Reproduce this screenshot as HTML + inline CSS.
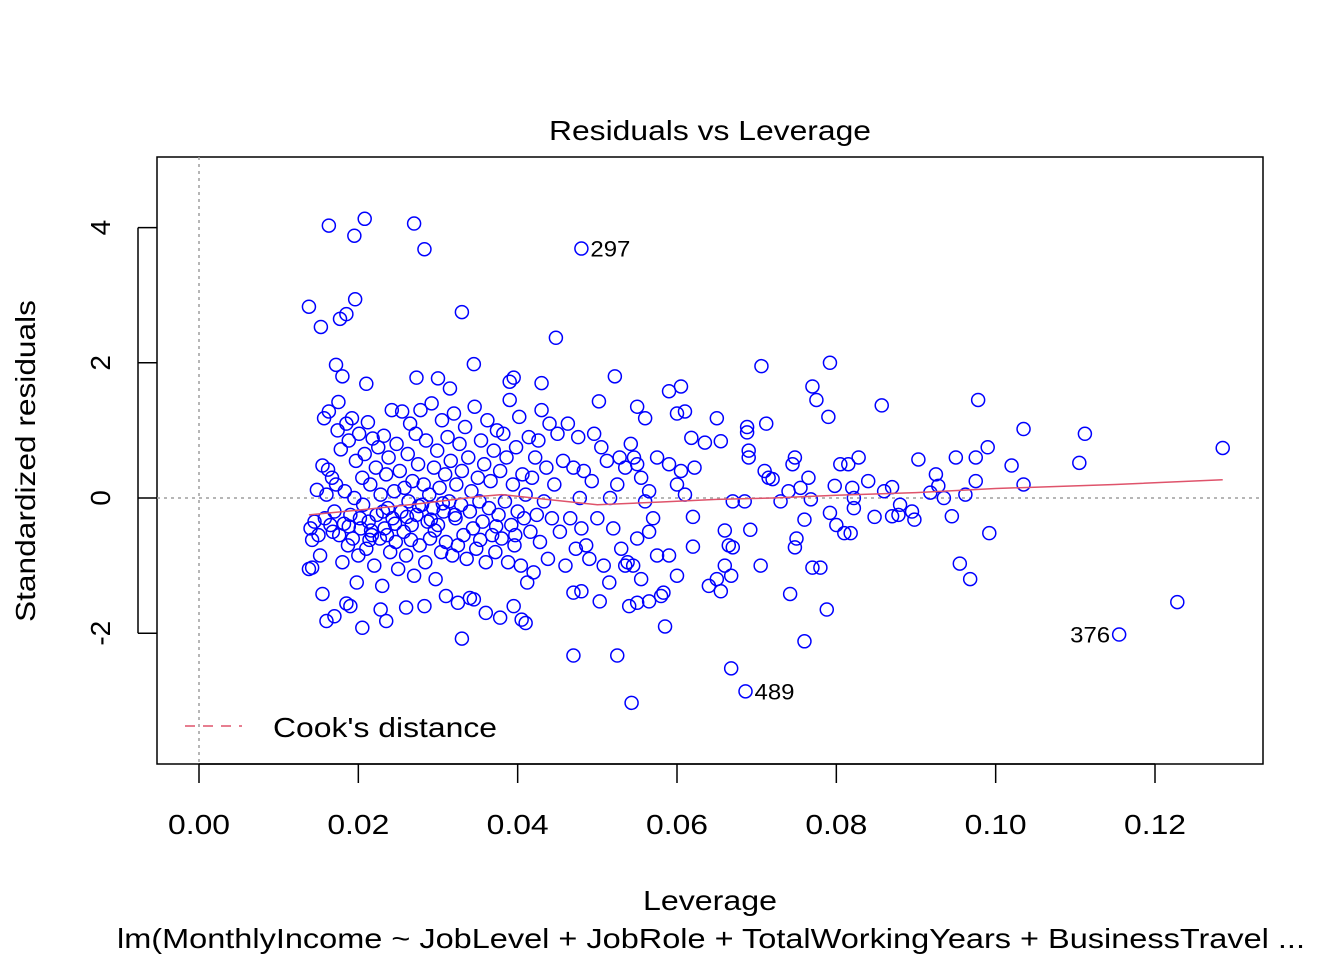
<!DOCTYPE html>
<html><head><meta charset="utf-8"><style>
html,body{margin:0;padding:0;background:#fff;}
svg{display:block;font-family:"Liberation Sans",Arial,sans-serif;}
</style></head><body>
<svg id="chart" width="1344" height="960" viewBox="0 0 1344 960">
<rect x="0" y="0" width="1344" height="960" fill="#fff"/>
<text x="710" y="140" font-size="28" text-anchor="middle" textLength="322" lengthAdjust="spacingAndGlyphs">Residuals vs Leverage</text>
<rect x="157" y="157" width="1106" height="607" fill="none" stroke="#000" stroke-width="1.5"/>
<g id="axes"></g>
<g id="refs"></g>
<g id="points"></g>
<g id="smooth"></g>
<g id="labels"></g>
<text x="710" y="910" font-size="28" text-anchor="middle" textLength="134" lengthAdjust="spacingAndGlyphs">Leverage</text>
<text x="711" y="948" font-size="28" text-anchor="middle" textLength="1188" lengthAdjust="spacingAndGlyphs">lm(MonthlyIncome ~ JobLevel + JobRole + TotalWorkingYears + BusinessTravel  ...</text>
<text transform="translate(35,461) rotate(-90)" font-size="28" text-anchor="middle" textLength="322" lengthAdjust="spacingAndGlyphs">Standardized residuals</text>
<g>
<line x1="185" y1="726" x2="242" y2="726" stroke="#DF536B" stroke-width="1.5" stroke-dasharray="10,8"/>
<text x="273" y="737" font-size="28" textLength="224" lengthAdjust="spacingAndGlyphs">Cook's distance</text>
</g>
</svg>
<script>
const xTicks=[0,0.02,0.04,0.06,0.08,0.10,0.12];
const xTickLabels=["0.00","0.02","0.04","0.06","0.08","0.10","0.12"];
const yTicks=[-2,0,2,4];
const yTickLabels=["-2","0","2","4"];
const obs=[
[0.0163,4.03],[0.0208,4.13],[0.0195,3.88],[0.0270,4.06],[0.0283,3.68],[0.0480,3.69],[0.0138,2.83],[0.0196,2.94],[0.0185,2.72],[0.0177,2.65],[0.0153,2.53],[0.0330,2.75],[0.0448,2.37],[0.0172,1.97],[0.0345,1.98],[0.0180,1.80],[0.0210,1.69],[0.0273,1.78],[0.0300,1.77],[0.0315,1.62],[0.0395,1.78],[0.0390,1.72],[0.0430,1.70],[0.0522,1.80],[0.0502,1.43],[0.0550,1.35],[0.0560,1.18],[0.0528,0.60],
[0.0160,-1.82],[0.0170,-1.75],[0.0205,-1.92],[0.0235,-1.82],[0.0330,-2.08],[0.0470,-2.33],[0.0525,-2.33],[0.0543,-3.03],[0.0410,-1.85],[0.0405,-1.80],[0.0395,-1.60],[0.0360,-1.70],[0.0378,-1.77],[0.0345,-1.50],[0.0340,-1.48],[0.0325,-1.55],[0.0310,-1.45],[0.0283,-1.60],[0.0260,-1.62],[0.0228,-1.65],[0.0190,-1.60],[0.0185,-1.56],[0.0155,-1.42],[0.0138,-1.05],[0.0142,-1.03],[0.0503,-1.53],[0.0540,-1.60],[0.0550,-1.55],[0.0565,-1.53],[0.0580,-1.45],[0.0480,-1.38],[0.0470,-1.40],[0.0515,-1.25],[0.0535,-1.00],[0.0555,-1.20],[0.0545,-1.00],[0.0550,-0.60],[0.0565,-0.50],[0.0575,-0.85],
[0.0618,0.89],[0.0635,0.82],[0.0650,1.18],[0.0655,0.84],[0.0622,0.45],[0.0605,0.40],[0.0610,1.28],[0.0600,1.25],[0.0590,1.58],[0.0605,1.65],[0.0590,0.50],[0.0600,0.20],[0.0610,0.05],[0.0620,-0.28],[0.0660,-0.48],[0.0665,-0.70],[0.0670,-0.73],[0.0650,-1.20],[0.0640,-1.30],[0.0655,-1.38],[0.0668,-1.15],[0.0660,-1.0],[0.0620,-0.72],[0.0600,-1.15],[0.0590,-0.85],[0.0583,-1.40],[0.0585,-1.90],[0.0668,-2.52],[0.0686,-2.86],[0.0670,-0.05],[0.0685,-0.05],[0.0690,0.70],[0.0688,0.97],[0.0688,1.05],[0.0690,0.60],[0.0706,1.95],[0.0712,1.10],[0.0710,0.40],[0.0715,0.30],[0.0720,0.28],[0.0705,-1.00],[0.0692,-0.47],[0.0730,-0.05],[0.0740,0.10],[0.0745,0.50],[0.0748,0.60],[0.0742,-1.42],[0.0750,-0.60],[0.0748,-0.73],[0.0755,0.15],[0.0760,-0.32],[0.0760,-2.12],[0.0770,1.65],[0.0775,1.45],[0.0765,0.30],[0.0768,-0.02],[0.0770,-1.03],[0.0780,-1.03],[0.0788,-1.65],[0.0792,2.00],[0.0790,1.20],[0.0792,-0.22],[0.0798,0.18],[0.0800,-0.40],[0.0805,0.50],[0.0810,-0.52],[0.0815,0.50],[0.0818,-0.52],[0.0820,0.15],[0.0822,-0.15],[0.0822,0.00],[0.0828,0.60],[0.0840,0.25],[0.0848,-0.28],[0.0857,1.37],[0.0860,0.10],[0.0870,0.16],[0.0870,-0.27],[0.0878,-0.25],[0.0880,-0.10],[0.0895,-0.20],[0.0898,-0.32],[0.0903,0.57],[0.0918,0.08],[0.0925,0.35],[0.0928,0.18],[0.0935,0.00],[0.0945,-0.27],[0.0950,0.60],[0.0955,-0.97],[0.0962,0.05],[0.0968,-1.20],[0.0975,0.25],[0.0978,1.45],[0.0975,0.60],[0.0990,0.75],[0.0992,-0.52],[0.1020,0.48],[0.1035,1.02],[0.1035,0.20],[0.1105,0.52],[0.1112,0.95],[0.1155,-2.02],[0.1228,-1.54],[0.1285,0.74],
[0.0140,-0.45],[0.0142,-0.62],[0.0145,-0.35],[0.0148,0.12],[0.0150,-0.55],[0.0152,-0.85],[0.0155,0.48],[0.0157,1.18],[0.0158,-0.30],[0.0160,0.05],[0.0162,0.42],[0.0163,1.28],[0.0165,-0.40],[0.0167,0.30],[0.0170,-0.20],[0.0172,0.20],[0.0174,1.00],[0.0175,1.42],[0.0176,-0.55],[0.0178,0.72],[0.0180,-0.95],[0.0182,-0.38],[0.0183,0.10],[0.0185,1.10],[0.0187,-0.70],[0.0188,0.85],[0.0190,-0.25],[0.0192,1.18],[0.0193,-0.60],[0.0195,0.00],[0.0197,0.55],[0.0198,-1.25],[0.0200,-0.85],[0.0201,0.95],[0.0203,-0.45],[0.0205,0.30],[0.0206,-0.10],[0.0208,0.65],[0.0210,-0.75],[0.0212,1.12],[0.0213,-0.35],[0.0215,0.20],[0.0217,-0.55],[0.0218,0.88],[0.0220,-1.00],[0.0222,0.45],[0.0223,-0.25],[0.0225,0.75],[0.0227,-0.60],[0.0228,0.05],[0.0230,-1.30],[0.0232,0.92],[0.0233,-0.45],[0.0235,0.35],[0.0237,-0.15],[0.0238,0.60],[0.0240,-0.80],[0.0242,1.30],[0.0243,-0.30],[0.0245,0.10],[0.0247,-0.65],[0.0248,0.80],[0.0250,-1.05],[0.0252,0.40],[0.0254,-0.20],[0.0255,1.28],[0.0257,-0.50],[0.0258,0.15],[0.0260,-0.85],[0.0262,0.65],[0.0263,-0.05],[0.0265,1.10],[0.0267,-0.40],[0.0268,0.25],[0.0270,-1.15],[0.0272,0.95],[0.0273,-0.25],[0.0275,0.50],[0.0277,-0.70],[0.0278,1.30],[0.0280,-0.10],[0.0282,0.20],[0.0284,-0.95],[0.0285,0.85],[0.0287,-0.35],[0.0289,0.05],[0.0290,-0.60],[0.0292,1.40],[0.0294,-0.15],[0.0295,0.45],[0.0297,-1.20],[0.0299,0.70],[0.0300,-0.40],[0.0302,0.15],[0.0304,-0.80],[0.0305,1.15],[0.0307,-0.20],[0.0309,0.35],[0.0310,-0.65],[0.0312,0.90],[0.0314,-0.05],[0.0316,0.55],[0.0318,-0.85],[0.0320,1.25],[0.0322,-0.30],[0.0323,0.20],[0.0325,-0.70],[0.0327,0.80],[0.0329,-0.10],[0.0330,0.40],[0.0332,-0.55],[0.0334,1.05],[0.0336,-0.90],[0.0338,0.60],[0.0340,-0.20],[0.0342,0.10],[0.0344,-0.45],[0.0346,1.35],[0.0348,-0.75],[0.0350,0.30],[0.0352,-0.05],[0.0354,0.85],[0.0356,-0.35],[0.0358,0.50],[0.0360,-0.95],[0.0362,1.15],[0.0364,-0.15],[0.0366,0.25],[0.0368,-0.55],[0.0370,0.70],[0.0372,-0.80],[0.0374,1.00],[0.0376,-0.25],[0.0378,0.40],[0.0380,-0.60],[0.0382,0.95],[0.0384,-0.05],[0.0386,0.60],[0.0388,-0.95],[0.0390,1.45],[0.0392,-0.40],[0.0394,0.20],[0.0396,-0.70],[0.0398,0.75],[0.0400,-0.20],[0.0402,1.20],[0.0404,-1.00],[0.0406,0.35],[0.0408,-0.30],[0.0410,0.05],[0.0412,-1.25],[0.0414,0.90],[0.0416,-0.50],[0.0418,0.30],[0.0420,-1.10],[0.0422,0.60],[0.0424,-0.25],[0.0426,0.85],[0.0428,-0.65],[0.0430,1.30],[0.0433,-0.05],[0.0436,0.45],[0.0438,-0.90],[0.0440,1.10],[0.0443,-0.30],[0.0446,0.20],[0.0450,0.95],[0.0453,-0.50],[0.0457,0.55],[0.0460,-1.00],[0.0463,1.10],[0.0466,-0.30],[0.0470,0.45],[0.0473,-0.75],[0.0476,0.90],[0.0478,0.00],[0.0480,-0.45],[0.0483,0.40],[0.0486,-0.70],[0.0490,-0.90],[0.0493,0.25],[0.0496,0.95],[0.0500,-0.30],[0.0505,0.75],[0.0508,-1.00],[0.0512,0.55],[0.0516,0.00],[0.0520,-0.45],[0.0525,0.20],[0.0530,-0.75],[0.0535,0.45],[0.0538,-0.95],[0.0542,0.80],[0.0546,0.60],[0.0550,0.50],[0.0555,0.30],[0.0560,-0.05],[0.0565,0.10],[0.0570,-0.30],[0.0575,0.60],
[0.0188,-0.42],[0.0202,-0.30],[0.0216,-0.48],[0.0231,-0.20],[0.0246,-0.38],[0.0261,-0.28],[0.0276,-0.12],[0.0291,-0.32],[0.0306,-0.08],[0.0321,-0.25],[0.0168,-0.50],[0.0214,-0.62],[0.0236,-0.55],[0.0266,-0.62],[0.0296,-0.48],[0.0353,-0.62],[0.0373,-0.42],[0.0397,-0.55]
];
const smoothLev=[0.0138,0.02,0.028,0.035,0.038,0.042,0.05,0.058,0.065,0.072,0.08,0.09,0.1,0.115,0.1285];
const smoothRes=[-0.25,-0.18,-0.08,0.02,0.05,0.0,-0.1,-0.06,-0.02,0.0,0.04,0.08,0.14,0.2,0.27];
const labelText=["297","489","376"];
const labelLev=[0.0480,0.0686,0.1155];
const labelRes=[3.69,-2.86,-2.02];
const labelSide=[1,1,-1];

const X=v=>199+v*(1155-199)/0.12;
const Y=v=>498-v*67.6;
const NS="http://www.w3.org/2000/svg";
function mk(tag,attrs,parent){const e=document.createElementNS(NS,tag);for(const k in attrs)e.setAttribute(k,attrs[k]);parent.appendChild(e);return e;}
const axes=document.getElementById('axes');
mk('line',{x1:X(0),x2:X(0.12),y1:764,y2:764,stroke:'#000','stroke-width':1.5},axes);
xTicks.forEach((t,i)=>{
 const l=mk('line',{x1:X(t),x2:X(t),y1:764,y2:783,stroke:'#000','stroke-width':1.5},axes);
 
 
 const tx=mk('text',{x:X(t),y:834,'font-size':28,'text-anchor':'middle',textLength:62,lengthAdjust:'spacingAndGlyphs'},axes);
 tx.textContent=xTickLabels[i];
 
 
});
mk('line',{x1:138,x2:138,y1:Y(-2),y2:Y(4),stroke:'#000','stroke-width':1.5},axes);
yTicks.forEach((t,i)=>{
 const l=mk('line',{x1:138,x2:157,y1:Y(t),y2:Y(t),stroke:'#000','stroke-width':1.5},axes);
 
 
 const tx=mk('text',{transform:`translate(110,${Y(t)}) rotate(-90)`,'font-size':28,'text-anchor':'middle'},axes);
 tx.textContent=yTickLabels[i];
 
 
});
const refs=document.getElementById('refs');
const h=mk('line',{x1:157,x2:1263,y1:Y(0),y2:Y(0),stroke:'#9e9e9e','stroke-width':1.5,'stroke-dasharray':'3,4'},refs);


const v=mk('line',{x1:X(0),x2:X(0),y1:157,y2:764,stroke:'#9e9e9e','stroke-width':1.5,'stroke-dasharray':'3,4'},refs);


const pg=document.getElementById('points');
obs.forEach(p=>{
 const c=mk('circle',{cx:X(p[0]),cy:Y(p[1]),r:6.5,fill:'none',stroke:'#0000FF','stroke-width':1.5},pg);
 
 
});
const sm=mk('polyline',{points:smoothLev.map((l,i)=>X(l)+','+Y(smoothRes[i])).join(' '),fill:'none',stroke:'#DF536B','stroke-width':1.5},document.getElementById('smooth'));


const lg=document.getElementById('labels');
labelText.forEach((s,i)=>{
 const x=X(labelLev[i])+(labelSide[i]>0?9:-9);
 const t=mk('text',{x:x,y:Y(labelRes[i])+8,'font-size':22,'text-anchor':labelSide[i]>0?'start':'end',textLength:40,lengthAdjust:'spacingAndGlyphs'},lg);
 t.textContent=s;
 
 
});
</script>
</body></html>
